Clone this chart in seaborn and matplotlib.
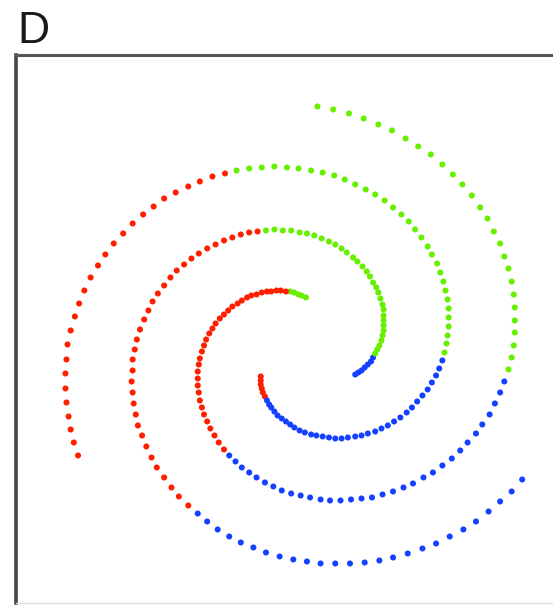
import matplotlib
matplotlib.use("Agg")
import matplotlib.pyplot as plt
import pandas as pd
import seaborn as sns

# Three interleaved spiral arms, each point coloured by its cluster.
arm_b_x = [0.46, 0.49, 0.52, 0.55, 0.58, 0.61, 0.63, 0.65, 0.67, 0.69,
           0.71, 0.72, 0.73, 0.73, 0.73, 0.73, 0.73, 0.72, 0.70, 0.68,
           0.66, 0.63, 0.60, 0.57, 0.53, 0.48, 0.44, 0.38, 0.33, 0.27,
           0.21, 0.14, 0.07, 0.00, -0.07, -0.15, -0.23, -0.31, -0.39, -0.47,
           -0.55, -0.63, -0.71, -0.79, -0.87, -0.95, -1.03, -1.10, -1.17, -1.24,
           -1.30, -1.36, -1.42, -1.47, -1.51, -1.55, -1.59, -1.62, -1.64, -1.66,
           -1.66, -1.67, -1.66, -1.65, -1.63, -1.61, -1.57, -1.53, -1.48, -1.43,
           -1.36, -1.29, -1.22, -1.13, -1.04, -0.95, -0.85, -0.74, -0.63, -0.51,
           -0.39, -0.26, -0.13, 0.00, 0.13, 0.27, 0.41, 0.55, 0.69, 0.82,
           0.96, 1.10, 1.23, 1.36, 1.49, 1.61, 1.73, 1.84, 1.95, 2.05]
arm_b_y = [-0.25, -0.23, -0.21, -0.18, -0.15, -0.12, -0.08, -0.04, 0.00, 0.04,
           0.09, 0.14, 0.19, 0.24, 0.29, 0.34, 0.40, 0.45, 0.51, 0.57,
           0.62, 0.67, 0.73, 0.78, 0.83, 0.88, 0.92, 0.97, 1.01, 1.05,
           1.08, 1.11, 1.14, 1.16, 1.17, 1.19, 1.19, 1.20, 1.19, 1.18,
           1.17, 1.15, 1.12, 1.09, 1.05, 1.01, 0.96, 0.91, 0.85, 0.79,
           0.72, 0.64, 0.56, 0.48, 0.39, 0.30, 0.20, 0.10, 0.00, -0.10,
           -0.21, -0.32, -0.43, -0.54, -0.65, -0.76, -0.86, -0.97, -1.08, -1.18,
           -1.28, -1.38, -1.47, -1.56, -1.64, -1.72, -1.80, -1.87, -1.93, -1.98,
           -2.03, -2.07, -2.10, -2.12, -2.14, -2.14, -2.14, -2.13, -2.11, -2.08,
           -2.04, -1.99, -1.94, -1.87, -1.80, -1.72, -1.62, -1.52, -1.42, -1.30]

arm_g_x = [-0.01, -0.05, -0.08, -0.12, -0.16, -0.20, -0.25, -0.29, -0.34, -0.38,
           -0.43, -0.48, -0.53, -0.57, -0.62, -0.66, -0.71, -0.75, -0.79, -0.83,
           -0.87, -0.90, -0.93, -0.96, -0.98, -1.00, -1.02, -1.03, -1.04, -1.04,
           -1.04, -1.03, -1.02, -1.00, -0.98, -0.95, -0.92, -0.88, -0.84, -0.79,
           -0.74, -0.68, -0.62, -0.55, -0.48, -0.40, -0.32, -0.24, -0.15, -0.06,
           0.03, 0.13, 0.22, 0.32, 0.42, 0.52, 0.62, 0.72, 0.82, 0.92,
           1.01, 1.11, 1.20, 1.29, 1.38, 1.46, 1.53, 1.61, 1.67, 1.74,
           1.79, 1.84, 1.88, 1.92, 1.95, 1.97, 1.98, 1.98, 1.98, 1.97,
           1.95, 1.92, 1.88, 1.84, 1.78, 1.72, 1.65, 1.57, 1.48, 1.39,
           1.29, 1.18, 1.06, 0.94, 0.81, 0.68, 0.54, 0.40, 0.25, 0.10]
arm_g_y = [0.52, 0.54, 0.55, 0.57, 0.58, 0.58, 0.59, 0.59, 0.58, 0.58,
           0.57, 0.55, 0.54, 0.52, 0.49, 0.46, 0.43, 0.39, 0.35, 0.31,
           0.26, 0.21, 0.16, 0.10, 0.04, -0.02, -0.09, -0.15, -0.22, -0.29,
           -0.36, -0.43, -0.51, -0.58, -0.65, -0.72, -0.79, -0.86, -0.93, -1.00,
           -1.06, -1.12, -1.18, -1.23, -1.28, -1.33, -1.37, -1.41, -1.44, -1.46,
           -1.48, -1.50, -1.51, -1.51, -1.50, -1.49, -1.48, -1.45, -1.42, -1.38,
           -1.34, -1.28, -1.23, -1.16, -1.09, -1.01, -0.93, -0.84, -0.75, -0.65,
           -0.54, -0.43, -0.32, -0.20, -0.08, 0.04, 0.17, 0.29, 0.42, 0.55,
           0.68, 0.81, 0.93, 1.06, 1.18, 1.31, 1.42, 1.54, 1.65, 1.75,
           1.85, 1.95, 2.03, 2.11, 2.19, 2.25, 2.31, 2.36, 2.40, 2.43]

arm_r_x = [-0.44, -0.44, -0.44, -0.43, -0.42, -0.40, -0.38, -0.36, -0.34, -0.31,
           -0.28, -0.24, -0.20, -0.16, -0.12, -0.07, -0.02, 0.04, 0.09, 0.15,
           0.21, 0.27, 0.33, 0.39, 0.46, 0.52, 0.58, 0.65, 0.71, 0.77,
           0.83, 0.89, 0.95, 1.00, 1.05, 1.10, 1.15, 1.19, 1.23, 1.26,
           1.29, 1.31, 1.33, 1.34, 1.35, 1.35, 1.35, 1.34, 1.32, 1.30,
           1.27, 1.24, 1.19, 1.15, 1.09, 1.03, 0.97, 0.90, 0.82, 0.74,
           0.65, 0.56, 0.46, 0.36, 0.26, 0.15, 0.04, -0.08, -0.19, -0.31,
           -0.43, -0.55, -0.67, -0.78, -0.90, -1.02, -1.13, -1.25, -1.36, -1.46,
           -1.56, -1.66, -1.75, -1.84, -1.92, -1.99, -2.06, -2.12, -2.17, -2.21,
           -2.25, -2.28, -2.29, -2.30, -2.30, -2.29, -2.27, -2.25, -2.22, -2.18]
arm_r_y = [-0.27, -0.31, -0.35, -0.39, -0.43, -0.47, -0.51, -0.55, -0.58, -0.62,
           -0.66, -0.69, -0.72, -0.75, -0.78, -0.81, -0.83, -0.85, -0.86, -0.87,
           -0.88, -0.89, -0.89, -0.88, -0.87, -0.86, -0.84, -0.82, -0.79, -0.76,
           -0.72, -0.68, -0.63, -0.58, -0.52, -0.46, -0.40, -0.33, -0.26, -0.19,
           -0.11, -0.03, 0.06, 0.14, 0.23, 0.32, 0.41, 0.50, 0.59, 0.68,
           0.77, 0.86, 0.95, 1.03, 1.12, 1.20, 1.28, 1.35, 1.42, 1.49,
           1.55, 1.60, 1.65, 1.70, 1.74, 1.77, 1.79, 1.81, 1.82, 1.83,
           1.82, 1.81, 1.79, 1.76, 1.73, 1.68, 1.63, 1.57, 1.51, 1.43,
           1.35, 1.26, 1.16, 1.06, 0.95, 0.84, 0.72, 0.59, 0.46, 0.33,
           0.19, 0.05, -0.10, -0.24, -0.39, -0.53, -0.67, -0.80, -0.93, -1.06]

# Cluster assignment along each arm, as (cluster, number of consecutive points).
arm_b_runs = [("blue", 7), ("green", 32), ("red", 35), ("blue", 26)]
arm_g_runs = [("green", 5), ("red", 35), ("blue", 33), ("green", 27)]
arm_r_runs = [("red", 6), ("blue", 35), ("green", 32), ("red", 27)]

palette = {"red": "#ff1e00", "green": "#66f000", "blue": "#1440ff"}


def expand(runs):
    return [label for label, count in runs for _ in range(count)]


frames = []
for arm, xs, ys, runs in [("b", arm_b_x, arm_b_y, arm_b_runs),
                          ("g", arm_g_x, arm_g_y, arm_g_runs),
                          ("r", arm_r_x, arm_r_y, arm_r_runs)]:
    frames.append(pd.DataFrame({"x": xs, "y": ys, "cluster": expand(runs), "arm": arm}))
df = pd.concat(frames, ignore_index=True)

sns.set_style("white")
plt.rcParams["font.family"] = ["Liberation Sans", "DejaVu Sans"]

fig = plt.figure(figsize=(5.53, 6.05), dpi=100)
ax = fig.add_axes([0.0289, 0.0025, 0.9837, 0.9058])

sns.scatterplot(data=df, x="x", y="y", hue="cluster", palette=palette,
                s=19, linewidth=0, legend=False, ax=ax)

ax.set_xlim(-2.771, 2.410)
ax.set_ylim(-2.54, 2.94)
ax.set_xticks([])
ax.set_yticks([])
ax.set_xlabel("")
ax.set_ylabel("")

ax.spines["left"].set_color("#444444")
ax.spines["left"].set_linewidth(2.6)
ax.spines["top"].set_color("#555555")
ax.spines["top"].set_linewidth(2.2)
ax.spines["bottom"].set_color("#dddddd")
ax.spines["bottom"].set_linewidth(1.0)
ax.spines["right"].set_visible(False)

fig.text(17 / 553, 1 - 43.3 / 605, "D", fontsize=32, ha="left", va="baseline",
         color="#1a1a1a")

fig.savefig("out.png", dpi=100)
